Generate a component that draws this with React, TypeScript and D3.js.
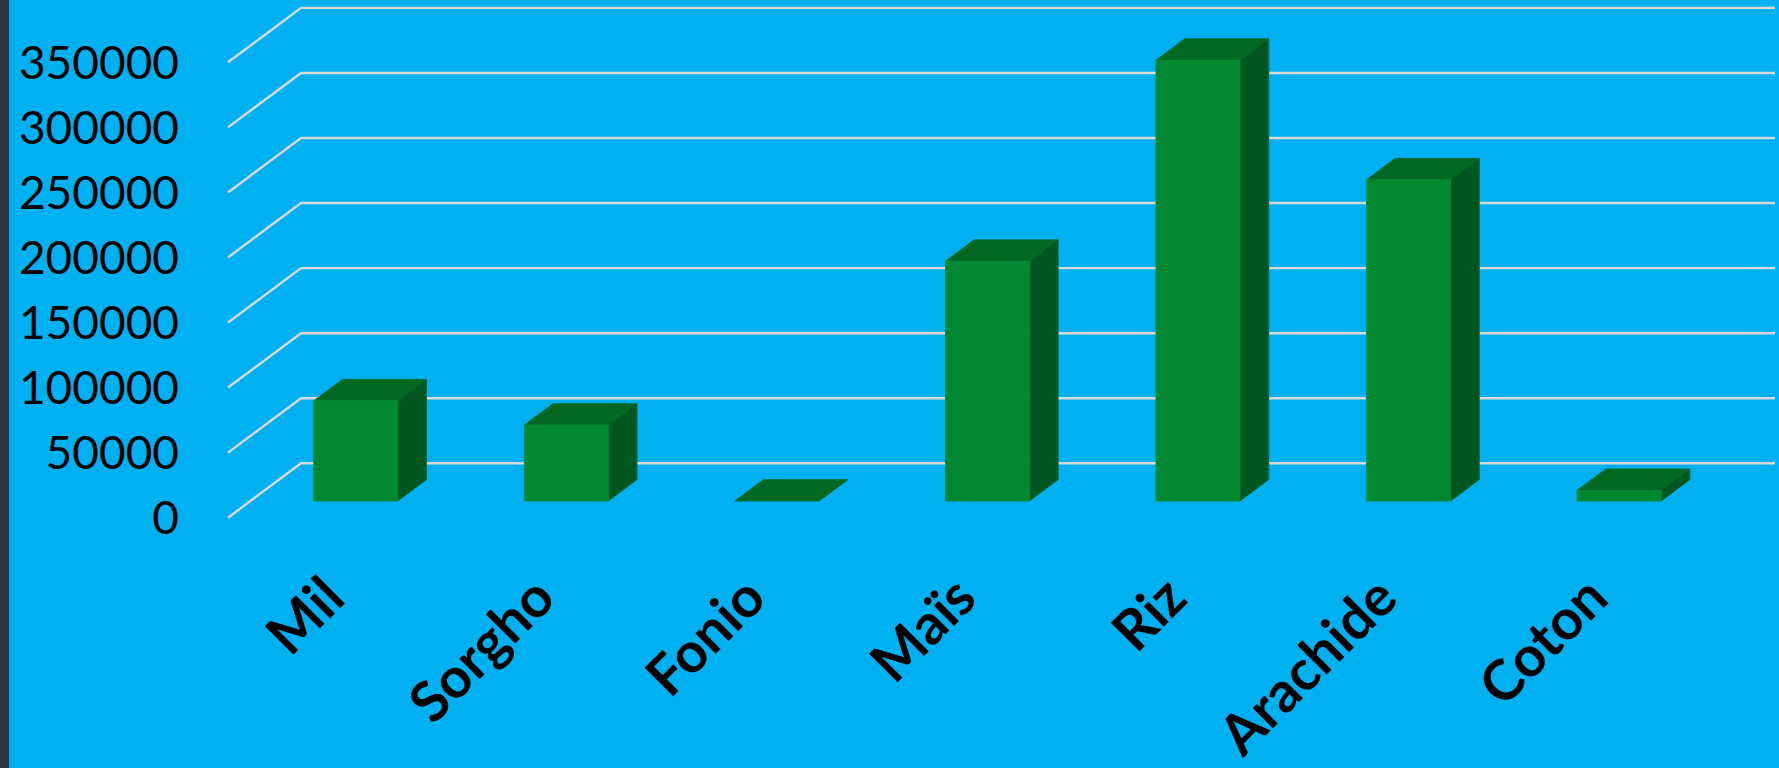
import { useEffect, useRef } from 'react';
import * as d3 from 'd3';

const categories = ['Mil', 'Sorgho', 'Fonio', 'Maïs', 'Riz', 'Arachide', 'Coton'];
const production = [77000, 58400, 0, 184300, 338800, 246900, 8200];
const yTicks = [0, 50000, 100000, 150000, 200000, 250000, 300000, 350000];

const W = 1779;
const H = 768;

export default function App() {
  const svgRef = useRef<SVGSVGElement>(null);

  useEffect(() => {
    if (!svgRef.current) return;
    const svg = d3.select(svgRef.current);
    svg.selectAll('*').remove();

    // front plane of the 3D box
    const left = 228;
    const right = 1702;
    const depthX = 73;
    const depthY = -54.4;
    const gridEnd = 1775;

    const x = d3.scaleBand<string>().domain(categories).range([left, right]).paddingInner(0).paddingOuter(0);
    const y = d3.scaleLinear().domain([0, 350000]).range([517.7, 62.3]);

    // background
    svg.append('rect').attr('width', W).attr('height', H).attr('fill', '#00b0f0');
    svg.append('rect').attr('width', 9).attr('height', H).attr('fill', '#30323f');

    // gridlines: diagonal on the side wall, then flat on the back wall
    const grid = svg.append('g');
    yTicks.forEach(t => {
      const yf = y(t);
      grid.append('path')
        .attr('d', `M${left},${yf}L${left + depthX},${yf + depthY}L${gridEnd},${yf + depthY}`)
        .attr('fill', 'none')
        .attr('stroke', '#d9d9d9')
        .attr('stroke-width', 2.4);
    });

    // y tick labels
    svg.append('g')
      .selectAll('text')
      .data(yTicks)
      .enter()
      .append('text')
      .attr('x', 179)
      .attr('y', d => y(d))
      .attr('dy', '0.36em')
      .attr('text-anchor', 'end')
      .attr('font-family', 'Lato, "Open Sans", sans-serif')
      .attr('font-size', 46)
      .attr('fill', '#000')
      .text(d => String(d));

    // bars
    const d0 = 0.307;
    const d1 = 0.70;
    const barW = 84;
    const bars = svg.append('g');
    categories.forEach((c, i) => {
      const v = production[i];
      const bx = (x(c) as number) + (x.bandwidth() - barW) / 2 + d0 * depthX;
      const yb = y(0) + d0 * depthY;
      const yt = y(v) + d0 * depthY;
      const ox = (d1 - d0) * depthX;
      const oy = (d1 - d0) * depthY;
      const g = bars.append('g');
      // side
      g.append('path')
        .attr('d', `M${bx + barW},${yt}L${bx + barW + ox},${yt + oy}L${bx + barW + ox},${yb + oy}L${bx + barW},${yb}Z`)
        .attr('fill', '#00571f')
        .attr('stroke', '#00571f')
        .attr('stroke-width', 0.8);
      // top
      g.append('path')
        .attr('d', `M${bx},${yt}L${bx + ox},${yt + oy}L${bx + barW + ox},${yt + oy}L${bx + barW},${yt}Z`)
        .attr('fill', '#036822')
        .attr('stroke', '#036822')
        .attr('stroke-width', 0.8);
      // front
      if (yb - yt > 0) {
        g.append('rect')
          .attr('x', bx)
          .attr('y', yt)
          .attr('width', barW)
          .attr('height', yb - yt)
          .attr('fill', '#028830')
          .attr('stroke', '#038a3a')
          .attr('stroke-width', 0.8);
      }
    });

    // category labels, rotated
    svg.append('g')
      .selectAll('text')
      .data(categories)
      .enter()
      .append('text')
      .attr('transform', d => `translate(${(x(d) as number) + x.bandwidth() / 2 + 14},601) rotate(-45)`)
      .attr('text-anchor', 'end')
      .attr('font-family', 'Lato, "Open Sans", sans-serif')
      .attr('font-weight', 'bold')
      .attr('font-size', 56)
      .attr('fill', '#000')
      .text(d => d);
  }, []);

  return (
    <div style={{ position: 'fixed', left: 0, top: 0, width: W, height: H, overflow: 'hidden' }}>
      <svg ref={svgRef} width={W} height={H} style={{ display: 'block' }} />
    </div>
  );
}
